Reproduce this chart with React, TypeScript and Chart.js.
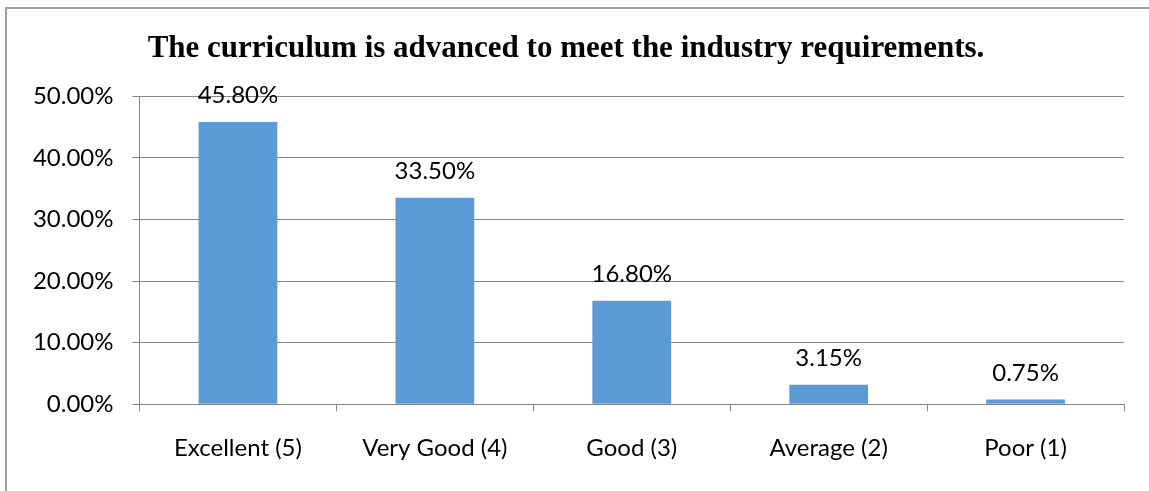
import React, { useEffect, useRef } from "react";
import { Chart, registerables } from "chart.js";

Chart.register(...registerables);

const TITLE = "The curriculum is advanced to meet the industry requirements.";
const categories = ["Excellent (5)", "Very Good (4)", "Good (3)", "Average (2)", "Poor (1)"];
const values = [45.8, 33.5, 16.8, 3.15, 0.75];
const valueLabels = ["45.80%", "33.50%", "16.80%", "3.15%", "0.75%"];
const yTicks = [0, 10, 20, 30, 40, 50];

const SANS = "Lato, 'Open Sans', sans-serif";
const GRID = "#868686";

const framePlugin = {
  id: "frame",
  beforeDraw(chart: any) {
    const ctx = chart.ctx;
    ctx.save();
    ctx.fillStyle = "#ffffff";
    ctx.fillRect(0, 0, chart.width, chart.height);
    ctx.strokeStyle = "#a0a0a0";
    ctx.lineWidth = 2;
    ctx.strokeRect(6, 8, chart.width + 50, chart.height + 50);
    ctx.restore();
  },
};

const labelPlugin = {
  id: "valueLabels",
  afterDatasetsDraw(chart: any) {
    const ctx = chart.ctx;
    const meta = chart.getDatasetMeta(0);
    ctx.save();
    ctx.font = `24px ${SANS}`;
    ctx.fillStyle = "#000000";
    ctx.textAlign = "center";
    ctx.textBaseline = "alphabetic";
    meta.data.forEach((bar: any, i: number) => {
      ctx.fillText(valueLabels[i], bar.x, bar.y - 19);
    });
    ctx.restore();
  },
};

export default function App() {
  const ref = useRef<HTMLCanvasElement>(null);
  useEffect(() => {
    if (!ref.current) return;
    const chart = new Chart(ref.current, {
      type: "bar",
      data: {
        labels: categories,
        datasets: [
          {
            data: values,
            backgroundColor: "#5B9BD5",
            borderWidth: 0,
            barPercentage: 1,
            categoryPercentage: 0.4,
          },
        ],
      },
      options: {
        animation: false,
        responsive: false,
        maintainAspectRatio: false,
        layout: { padding: { left: 8, right: 25, top: 0, bottom: 6 } },
        plugins: {
          legend: { display: false },
          tooltip: { enabled: false },
          title: {
            display: true,
            text: TITLE,
            color: "#000000",
            font: { family: "'Liberation Serif', 'Times New Roman', serif", size: 31, weight: "bold", lineHeight: 1.2 },
            padding: { top: 30, bottom: 29 },
          },
        },
        scales: {
          x: {
            grid: {
              display: true,
              drawOnChartArea: false,
              drawTicks: true,
              tickLength: 7,
              color: GRID,
              offset: true,
            },
            border: { display: true, color: GRID, width: 1 },
            ticks: {
              color: "#000000",
              font: { family: SANS, size: 24 },
              padding: 22.5,
              maxRotation: 0,
            },
          },
          y: {
            min: 0,
            max: 50,
            afterFit(scale: any) {
              scale.width = 131.5;
            },
            afterBuildTicks(scale: any) {
              scale.ticks = yTicks.map((v) => ({ value: v }));
            },
            grid: { color: GRID, lineWidth: 1, tickLength: 7, drawTicks: true },
            border: { display: true, color: GRID, width: 1 },
            ticks: {
              color: "#000000",
              font: { family: SANS, size: 24 },
              padding: 19,
              callback: (v: any) => Number(v).toFixed(2) + "%",
            },
          },
        },
      },
      plugins: [framePlugin, labelPlugin],
    });
    return () => chart.destroy();
  }, []);
  return (
    <div style={{ position: "absolute", left: 0, top: 0, width: 1149, height: 491 }}>
      <canvas ref={ref} width={1149} height={491} style={{ width: 1149, height: 491 }} />
    </div>
  );
}
